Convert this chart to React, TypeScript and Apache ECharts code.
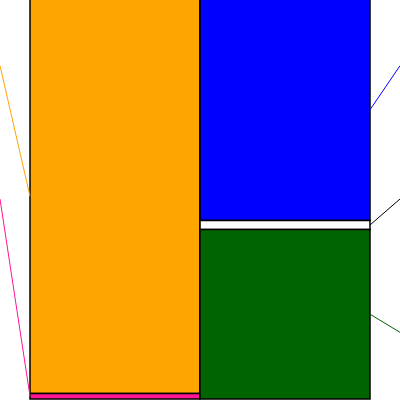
import { useEffect, useRef } from 'react';
import * as echarts from 'echarts';

// two columns, segments listed top to bottom (percent of column height)
const columns = ['Left', 'Right'];
const leftNames = ['Orange', 'Pink'];
const leftValues = [98.6, 1.4];
const leftColors = ['#FFA500', '#FF1493'];
const rightNames = ['Blue', 'White', 'Green'];
const rightValues = [55.4, 2.2, 42.4];
const rightColors = ['#0000FF', '#FFFFFF', '#006400'];
const rightLineColors = ['#0000FF', '#000000', '#006400'];
const leftLineColors = ['#FFA500', '#FF1493'];

function buildColumn(col: number, names: string[], values: number[], colors: string[], lineColors: string[]) {
  let acc = 0;
  return values.map((v, i) => {
    const start = acc;
    acc += v;
    return {
      name: names[i],
      value: [col, start, acc, i],
      itemStyle: { color: colors[i] },
      lineColor: lineColors[i]
    };
  });
}

export default function App() {
  const ref = useRef<HTMLDivElement>(null);

  useEffect(() => {
    if (!ref.current) return;
    const chart = echarts.init(ref.current, null, { renderer: 'svg' });
    const data = [
      ...buildColumn(0, leftNames, leftValues, leftColors, leftLineColors),
      ...buildColumn(1, rightNames, rightValues, rightColors, rightLineColors)
    ];
    chart.setOption({
      animation: false,
      grid: { left: 30, right: 30, top: 0, bottom: 1 },
      xAxis: { type: 'category', data: columns, show: false },
      yAxis: { type: 'value', min: 0, max: 100, inverse: true, show: false, splitLine: { show: false } },
      series: [
        {
          type: 'custom',
          data: data.map((d) => ({ name: d.name, value: d.value, itemStyle: d.itemStyle })),
          renderItem: (params: any, api: any) => {
            const col = api.value(0);
            const top = api.coord([col, api.value(1)]);
            const bottom = api.coord([col, api.value(2)]);
            const idx = api.value(3);
            const w = api.size([1, 0])[0];
            const cs = params.coordSys;
            const x0 = top[0] - w / 2;
            const midY = (top[1] + bottom[1]) / 2;
            const side = col === 0 ? x0 : x0 + w;
            const labelX = col === 0 ? side - 30 : side + 30;
            const labelY = cs.y + ((idx + 0.5) * cs.height) / 3;
            return {
              type: 'group',
              children: [
                {
                  type: 'rect',
                  shape: { x: x0, y: top[1], width: w, height: bottom[1] - top[1] },
                  style: { fill: api.visual('color'), stroke: '#000', lineWidth: 1.5 }
                },
                {
                  type: 'polyline',
                  shape: { points: [[side, midY], [labelX, labelY]] },
                  style: { stroke: data[params.dataIndex].lineColor, lineWidth: 1, fill: null }
                }
              ]
            };
          }
        }
      ]
    });
    return () => {
      chart.dispose();
    };
  }, []);

  return <div ref={ref} style={{ position: 'fixed', left: 0, top: -1, width: 400, height: 401 }} />;
}
